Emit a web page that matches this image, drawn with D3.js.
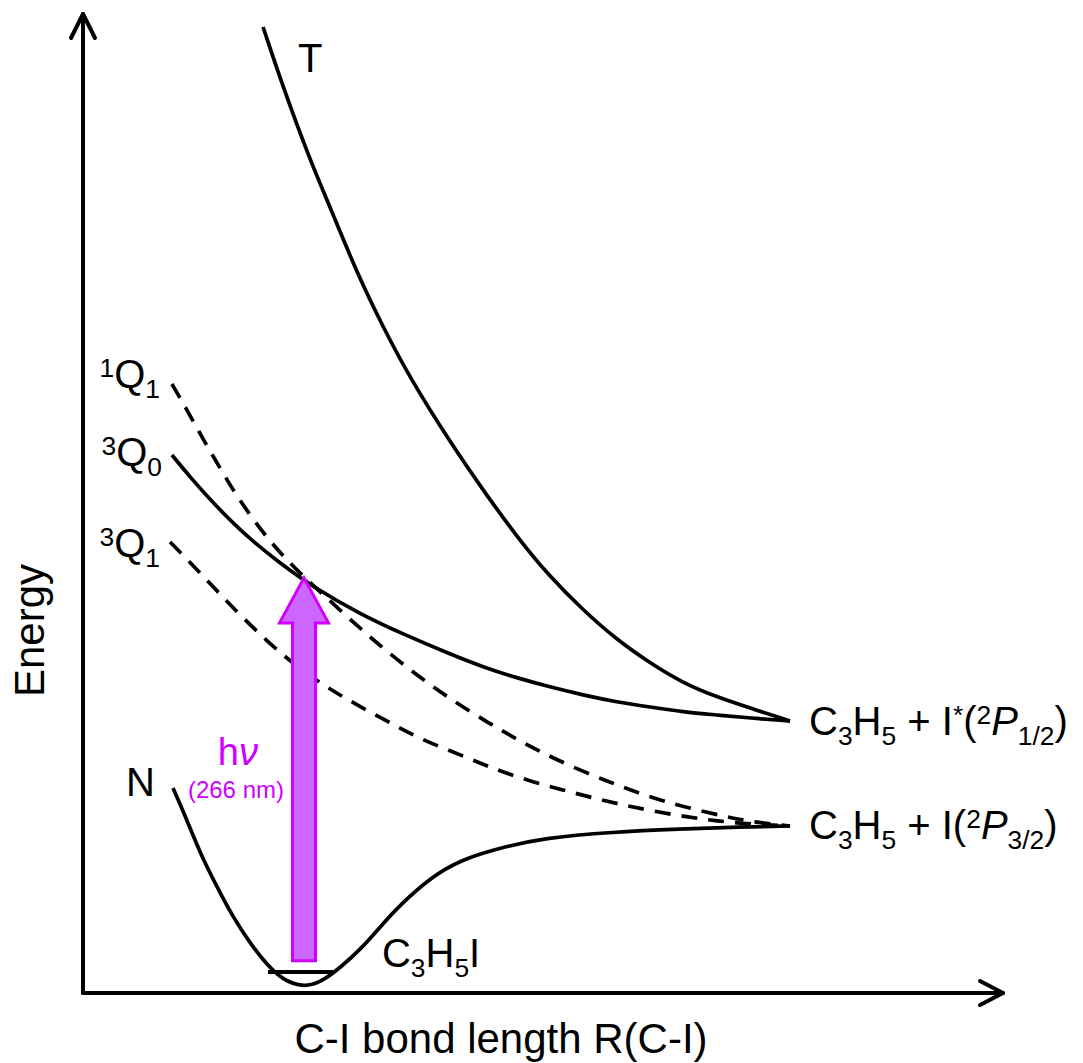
<!DOCTYPE html>
<html>
<head>
<meta charset="utf-8">
<script src="https://cdn.jsdelivr.net/npm/d3@7"></script>
<style>
  html, body { margin: 0; padding: 0; background: #fff; }
  text { font-family: "Liberation Sans", Arial, sans-serif; white-space: pre; }
</style>
</head>
<body>
<div id="chart"></div>
<script>
// Potential energy curves, R (C-I) in arbitrary units, energy in arbitrary units
const R_T  = [1.957, 2.174, 2.467, 2.685, 2.978, 3.261, 3.554, 3.989, 4.348, 4.717, 5.076, 5.435, 5.804, 6.163, 6.522, 6.891, 7.250, 7.685];
const E_T  = [9.867, 9.254, 8.509, 8.029, 7.354, 6.803, 6.282, 5.628, 5.138, 4.658, 4.249, 3.912, 3.606, 3.371, 3.166, 3.023, 2.911, 2.778];

const R_1Q1 = [0.967, 1.130, 1.293, 1.457, 1.630, 1.815, 2.011, 2.217, 2.402, 2.793, 3.152, 3.554, 3.957, 4.424, 4.750, 5.043, 5.370, 5.696, 5.978, 6.304, 6.630, 7.000, 7.283, 7.685];
const E_1Q1 = [6.221, 5.955, 5.679, 5.414, 5.138, 4.883, 4.637, 4.423, 4.249, 3.912, 3.606, 3.299, 3.023, 2.748, 2.574, 2.431, 2.288, 2.165, 2.063, 1.961, 1.879, 1.798, 1.747, 1.706];

const R_3Q0 = [0.967, 1.163, 1.413, 1.783, 2.141, 2.500, 3.011, 3.500, 3.989, 4.348, 4.717, 5.076, 5.435, 5.804, 6.163, 6.522, 6.891, 7.250, 7.685];
const E_3Q0 = [5.495, 5.271, 5.005, 4.658, 4.392, 4.147, 3.871, 3.657, 3.463, 3.330, 3.218, 3.126, 3.044, 2.972, 2.921, 2.870, 2.840, 2.809, 2.778];

const R_3Q1 = [0.946, 1.109, 1.272, 1.489, 1.728, 2.000, 2.250, 2.543, 2.826, 3.120, 3.424, 3.696, 4.022, 4.315, 4.565, 4.891, 5.217, 5.543, 5.870, 6.196, 6.565, 6.891, 7.250, 7.685];
const E_3Q1 = [4.607, 4.453, 4.290, 4.076, 3.841, 3.596, 3.391, 3.187, 3.023, 2.870, 2.717, 2.584, 2.462, 2.349, 2.257, 2.155, 2.074, 1.992, 1.920, 1.859, 1.798, 1.757, 1.726, 1.706];

const R_N = [0.978, 1.130, 1.272, 1.457, 1.630, 1.815, 2.000, 2.174, 2.380, 2.576, 2.793, 3.043, 3.228, 3.446, 3.772, 4.098, 4.533, 5.000, 5.761, 6.489, 7.141, 7.685];
const E_N = [2.094, 1.767, 1.430, 1.083, 0.776, 0.511, 0.286, 0.133, 0.061, 0.102, 0.255, 0.470, 0.674, 0.899, 1.175, 1.359, 1.481, 1.583, 1.645, 1.675, 1.696, 1.706];

// v=0 level of the ground state
const levelR = [2.011, 2.717];
const levelE = 0.215;

// 266 nm excitation
const pumpR = 2.402;
const pumpE = [0.33, 4.24];

const width = 1083, height = 1063;
const magenta = "#d000ff";

const x = d3.scaleLinear().domain([0, 10]).range([83, 1003]);
const y = d3.scaleLinear().domain([0, 10]).range([993, 14]);

const svg = d3.select("#chart").append("svg")
  .attr("width", width)
  .attr("height", height);

const line = d3.line()
  .x(d => x(d[0]))
  .y(d => y(d[1]))
  .curve(d3.curveBasis);

// axes (arrows, no ticks)
const axes = svg.append("g")
  .attr("stroke", "#000")
  .attr("stroke-width", 4)
  .attr("fill", "none")
  .attr("stroke-linecap", "round")
  .attr("stroke-linejoin", "round");
axes.append("path").attr("d", `M${x(0)},${y(0)} V${y(10)}`);
axes.append("path").attr("d", `M${x(0) - 12},${y(10) + 24} L${x(0)},${y(10)} L${x(0) + 12},${y(10) + 24}`);
axes.append("path").attr("d", `M${x(0)},${y(0)} H${x(10)}`);
axes.append("path").attr("d", `M${x(10) - 23},${y(0) - 12} L${x(10)},${y(0)} L${x(10) - 23},${y(0) + 12}`);

// curves
const curves = [
  { name: "T", R: R_T, E: E_T, dashed: false },
  { name: "1Q1", R: R_1Q1, E: E_1Q1, dashed: true },
  { name: "3Q0", R: R_3Q0, E: E_3Q0, dashed: false },
  { name: "3Q1", R: R_3Q1, E: E_3Q1, dashed: true },
  { name: "N", R: R_N, E: E_N, dashed: false }
];

svg.append("g").selectAll("path")
  .data(curves)
  .join("path")
  .attr("d", d => line(d3.zip(d.R, d.E)))
  .attr("fill", "none")
  .attr("stroke", "#000")
  .attr("stroke-width", 3.7)
  .attr("stroke-dasharray", d => d.dashed ? "16 11" : null);

// vibrational level
svg.append("line")
  .attr("x1", x(levelR[0])).attr("x2", x(levelR[1]))
  .attr("y1", y(levelE)).attr("y2", y(levelE))
  .attr("stroke", "#000").attr("stroke-width", 4);

// excitation arrow
const ax = x(pumpR), y0 = y(pumpE[0]), y1 = y(pumpE[1]);
const bw = 11.5, hw = 24.5, hl = 45;
svg.append("path")
  .attr("d", `M${ax - bw},${y0} V${y1 + hl} H${ax - hw} L${ax},${y1} L${ax + hw},${y1 + hl} H${ax + bw} V${y0} Z`)
  .attr("fill", "#cc66ff")
  .attr("stroke", magenta)
  .attr("stroke-width", 3);

// text with sub/superscripts
function rich(parent, px, py, parts, size, anchor, color) {
  const t = parent.append("text")
    .attr("x", px).attr("y", py)
    .attr("font-size", size)
    .attr("text-anchor", anchor || "start")
    .attr("fill", color || "#000");
  let off = 0;
  parts.forEach(p => {
    const target = p.k === "sub" ? size * 0.26 : p.k === "sup" ? -size * 0.27 : 0;
    const ts = t.append("tspan").text(p.t).attr("dy", target - off);
    if (p.k) ts.attr("font-size", size * 0.66);
    if (p.i) ts.attr("font-style", "italic");
    off = target;
  });
  return t;
}

const fs = 40;
const start = c => [x(c.R[0]), y(c.E[0])];
const end = c => [x(c.R[c.R.length - 1]), y(c.E[c.E.length - 1])];

const [tX, tY] = start(curves[0]);
rich(svg, tX + 35, tY + 45, [{ t: "T" }], fs);

const [q1x, q1y] = start(curves[1]);
rich(svg, q1x - 12, q1y + 4, [{ t: "1", k: "sup" }, { t: "Q" }, { t: "1", k: "sub" }], fs, "end");

const [q0x, q0y] = start(curves[2]);
rich(svg, q0x - 10, q0y + 11, [{ t: "3", k: "sup" }, { t: "Q" }, { t: "0", k: "sub" }], fs, "end");

const [q3x, q3y] = start(curves[3]);
rich(svg, q3x - 10, q3y + 15, [{ t: "3", k: "sup" }, { t: "Q" }, { t: "1", k: "sub" }], fs, "end");

const [nx, ny] = start(curves[4]);
rich(svg, nx - 18, ny + 8, [{ t: "N" }], fs, "end");

const [e1x, e1y] = end(curves[0]);
rich(svg, e1x + 19, e1y + 14, [
  { t: "C" }, { t: "3", k: "sub" }, { t: "H" }, { t: "5", k: "sub" }, { t: " + I" },
  { t: "*", k: "sup" }, { t: "(" }, { t: "2", k: "sup" }, { t: "P", i: true }, { t: "1/2", k: "sub" }, { t: ")" }
], fs);

const [e2x, e2y] = end(curves[4]);
rich(svg, e2x + 19, e2y + 13, [
  { t: "C" }, { t: "3", k: "sub" }, { t: "H" }, { t: "5", k: "sub" }, { t: " + I(" },
  { t: "2", k: "sup" }, { t: "P", i: true }, { t: "3/2", k: "sub" }, { t: ")" }
], fs);

// molecule label near the well
rich(svg, x(levelR[1]) + 49, y(levelE) - 5, [
  { t: "C" }, { t: "3", k: "sub" }, { t: "H" }, { t: "5", k: "sub" }, { t: "I" }
], fs);

// photon label
rich(svg, ax - 46, y(2.33), [{ t: "h" }, { t: "ν", i: true }], 38, "end", magenta);
rich(svg, ax - 20, y(1.99), [{ t: "(266 nm)" }], 24, "end", magenta);

// axis titles
svg.append("text")
  .attr("transform", `translate(44, ${(y(0) + y(10)) / 2 + 127}) rotate(-90)`)
  .attr("text-anchor", "middle")
  .attr("font-size", 42)
  .text("Energy");

svg.append("text")
  .attr("x", 501)
  .attr("y", 1053)
  .attr("text-anchor", "middle")
  .attr("font-size", 42)
  .text("C-I bond length R(C-I)");
</script>
</body>
</html>
